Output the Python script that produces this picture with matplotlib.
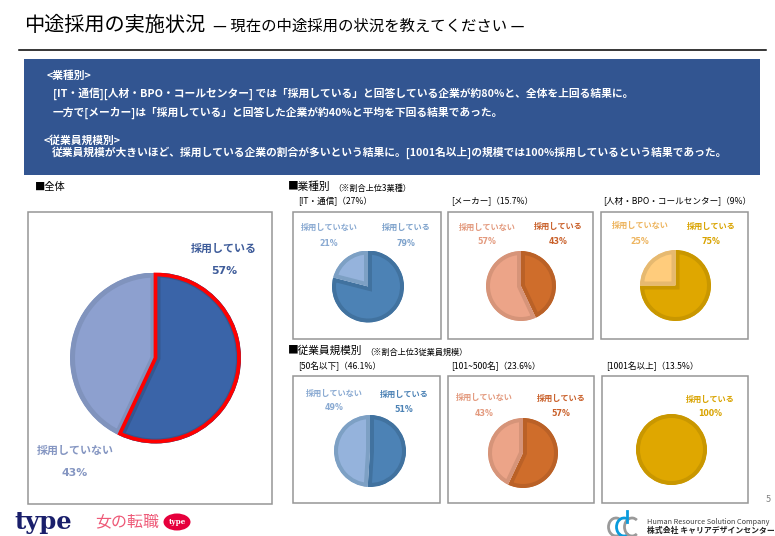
import matplotlib
matplotlib.use("Agg")
import matplotlib.pyplot as plt
from matplotlib.patches import Rectangle, Ellipse, Arc

plt.rcParams['font.family'] = ['Noto Sans CJK JP', 'DejaVu Sans']
W, H = 775, 536

YES = "採用している"
NO = "採用していない"

overall = [57, 43]
industry_names = ["[IT・通信]（27%）", "[メーカー]（15.7%）", "[人材・BPO・コールセンター]（9%）"]
industry_values = [[79, 21], [43, 57], [75, 25]]
size_names = ["[50名以下]（46.1%）", "[101~500名]（23.6%）", "[1001名以上]（13.5%）"]
size_values = [[51, 49], [57, 43], [100]]

title = "中途採用の実施状況"
subtitle = "— 現在の中途採用の状況を教えてください —"
banner_lines = [
    (47, 76, "<業種別>"),
    (53, 94, "[IT・通信][人材・BPO・コールセンター] では「採用している」と回答している企業が約80%と、全体を上回る結果に。"),
    (53, 113, "一方で[メーカー]は「採用している」と回答した企業が約40%と平均を下回る結果であった。"),
    (44, 140, "<従業員規模別>"),
    (52, 153, "従業員規模が大きいほど、採用している企業の割合が多いという結果に。[1001名以上]の規模では100%採用しているという結果であった。"),
]

BLUE = ("#4C82B5", "#41729F", "#95B3DC", "#7DA0C4", "#8AAAD2", "#4C82B5")
BLUE_PALE = BLUE[:5] + ("#7FA3CC",)
ORANGE = ("#CF6D2B", "#BA6127", "#ECA488", "#D69479", "#E39A7E", "#C9602A")
GOLD = ("#DFA700", "#C99700", "#FFCC7C", "#E6B970", "#EDB45E", "#D9A300")

fig = plt.figure(figsize=(W / 100, H / 100), dpi=100, facecolor="white")
bg = fig.add_axes([0, 0, 1, 1])
bg.set_xlim(0, W)
bg.set_ylim(H, 0)
bg.axis("off")


def put(x, y, s, size, color="black", ha="left", weight="normal", **kw):
    bg.text(x, y, s, fontsize=size, color=color, ha=ha, va="center", fontweight=weight, **kw)


def pct(x, y, v, size, color):
    bg.text(x, y, f"{v}%", fontsize=size, color=color, ha="center", va="center",
            fontweight="bold", family="DejaVu Sans")


def frame(x0, y0, x1, y1):
    bg.add_patch(Rectangle((x0, y0), x1 - x0, y1 - y0, fc="white", ec="#969696", lw=1.1))


def pie(cx, cy, r, vals, face, edge, band_px=4):
    ax = fig.add_axes([(cx - r) / W, 1 - (cy + r) / H, 2 * r / W, 2 * r / H])
    wedges = ax.pie(vals, startangle=90, counterclock=False, colors=face, radius=1,
                    wedgeprops=dict(linewidth=2 * band_px * 0.72, joinstyle="miter"))[0]
    for w, e in zip(wedges, edge):
        w.set_edgecolor(e)
        w.set_clip_on(True)
        w.set_clip_path(w)  # the band stays inside its own slice
    ax.set_xlim(-1, 1)
    ax.set_ylim(-1, 1)
    ax.patch.set_alpha(0)
    return ax


def small_pie(cx, cy, r, vals, pal, no_xy, yes_xy):
    pie(cx, cy, r, vals, (pal[0], pal[2]), (pal[1], pal[3]))
    x, y, y2 = yes_xy
    put(x, y, YES, 5.9, pal[5], "center", "bold")
    pct(x, y2, vals[0], 5.7, pal[5])
    if no_xy:
        x, y, y2 = no_xy
        put(x, y, NO, 5.9, pal[4], "center", "bold")
        pct(x, y2, vals[1], 5.7, pal[4])


# Header
put(24, 25, title, 14.5)
put(213, 26, subtitle, 11.1)
bg.plot([19, 766], [50, 50], color="black", lw=1.1)
bg.add_patch(Rectangle((24, 59), 736, 116, fc="#325591", ec="none"))
for x, y, s in banner_lines:
    put(x, y, s, 7.75, "white", weight="bold")

# Section headers
put(35, 187, "■全体", 7.4)
put(288, 187, "■業種別", 7.7)
put(333, 188, "（※割合上位3業種）", 5.9)
put(288, 351, "■従業員規模別", 7.7)
put(365, 352, "（※割合上位3従業員規模）", 5.9)
for x, s in zip((298, 451, 603), industry_names):
    put(x, 202, s, 6.2)
for x, s in zip((298, 451, 606), size_names):
    put(x, 366, s, 6.2)

# Frames
frame(28, 212, 272, 504)
for x0, x1 in ((293, 441), (448, 593), (601, 748)):
    frame(x0, 212, x1, 339)
for x0, x1 in ((293, 440), (448, 594), (602, 748)):
    frame(x0, 376, x1, 503)

# Overall pie
ax = pie(155.5, 358, 85.5, overall, ("#3A64A8", "#8DA0CF"), ("#35578F", "#8093BD"), band_px=5)
outline = ax.pie(overall, startangle=90, counterclock=False, radius=(85.5 - 2) / 85.5,
                 colors=("none", "none"),
                 wedgeprops=dict(linewidth=2.7, edgecolor="none", joinstyle="miter"))[0]
outline[0].set_edgecolor("#FF0000")
outline[0].set_facecolor("none")
outline[0].set_zorder(4)
ax.set_xlim(-1, 1)
ax.set_ylim(-1, 1)
put(224, 249, YES, 7.9, "#3E5C9A", "center", "bold")
pct(224, 271, overall[0], 7.8, "#3E5C9A")
put(75, 451, NO, 7.9, "#8596C2", "center", "bold")
pct(75, 473, overall[1], 7.8, "#8596C2")

# Industry pies
small_pie(368, 286.5, 36, industry_values[0], BLUE_PALE, (329, 227, 243), (406, 227, 243))
small_pie(521, 286, 35, industry_values[1], ORANGE, (487, 227, 242), (558, 226, 242))
small_pie(675.5, 285.5, 35.5, industry_values[2], GOLD, (640, 225, 241), (711, 226, 241))

# Company size pies
small_pie(370, 451, 36, size_values[0], BLUE, (334, 393, 408), (404, 394, 409))
small_pie(523, 453, 35, size_values[1], ORANGE, (484, 397, 413), (561, 398, 413))
small_pie(671.5, 449.5, 35.5, size_values[2], GOLD, None, (710, 399, 414))

# Footer
put(768, 500, "5", 6.5, "#808080", "center")
bg.text(14, 522, "type", fontsize=17.5, color="#1A1F6B", fontweight="bold", family="DejaVu Serif", va="center")
put(95, 522, "女の転職", 11.5, "#EE5A78")
bg.add_patch(Ellipse((177, 522), 27, 17, fc="#E6003C", ec="none"))
bg.text(177, 522, "type", fontsize=5.2, color="white", fontweight="bold", family="DejaVu Serif", ha="center", va="center")
for cx, col in ((616, "#9A9A9A"), (624, "#0A9BDC"), (632, "#9A9A9A")):
    bg.add_patch(Arc((cx, 527), 15, 18, theta1=55, theta2=305, color=col, lw=2))
bg.plot([627, 627], [511, 522], color="#0A9BDC", lw=2)
put(647, 522, "Human Resource Solution Company", 5.25, "#404040")
put(647, 531, "株式会社 キャリアデザインセンター", 5.65, "#202020", weight="bold")

fig.savefig("out.png", dpi=100)
